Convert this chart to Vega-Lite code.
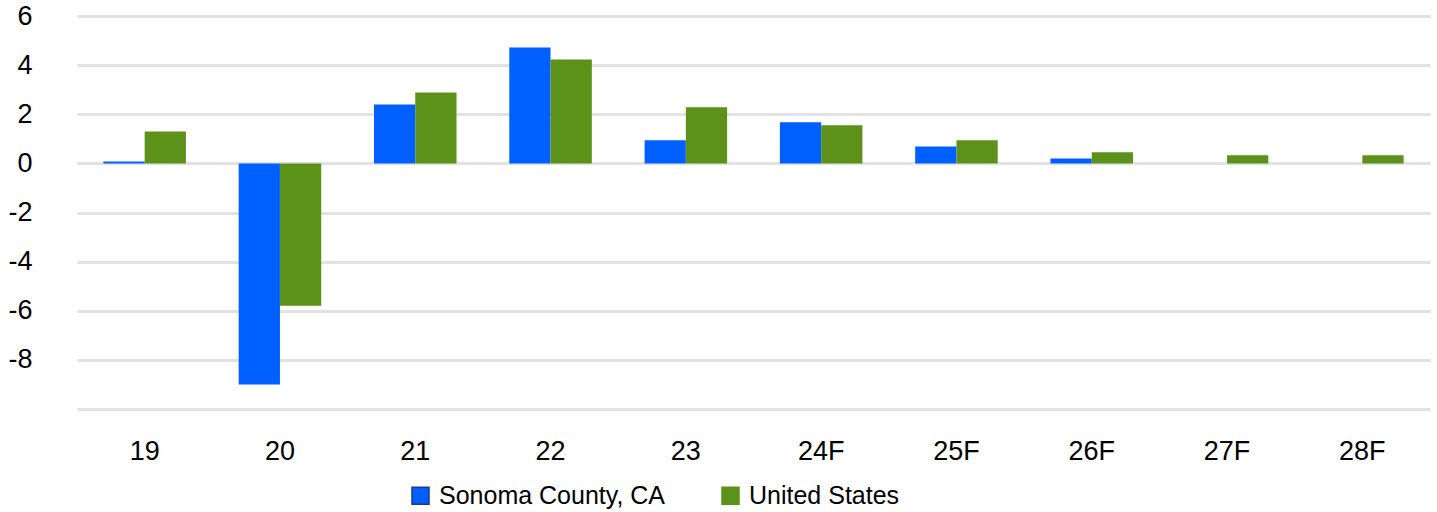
{
  "$schema": "https://vega.github.io/schema/vega-lite/v6.json",
  "autosize": {"type": "none"},
  "padding": {"left": 77, "top": 16, "right": 7, "bottom": 103},
  "width": 1353,
  "height": 393,
  "background": "white",
  "config": {
    "view": {"stroke": null},
    "font": "Liberation Sans"
  },
  "data": {
    "values": [
      {"year": "19", "series": "Sonoma County, CA", "value": 0.08},
      {"year": "19", "series": "United States", "value": 1.3},
      {"year": "20", "series": "Sonoma County, CA", "value": -9.0},
      {"year": "20", "series": "United States", "value": -5.8},
      {"year": "21", "series": "Sonoma County, CA", "value": 2.4},
      {"year": "21", "series": "United States", "value": 2.89},
      {"year": "22", "series": "Sonoma County, CA", "value": 4.72},
      {"year": "22", "series": "United States", "value": 4.23},
      {"year": "23", "series": "Sonoma County, CA", "value": 0.94},
      {"year": "23", "series": "United States", "value": 2.28},
      {"year": "24F", "series": "Sonoma County, CA", "value": 1.67},
      {"year": "24F", "series": "United States", "value": 1.55},
      {"year": "25F", "series": "Sonoma County, CA", "value": 0.69},
      {"year": "25F", "series": "United States", "value": 0.94},
      {"year": "26F", "series": "Sonoma County, CA", "value": 0.2},
      {"year": "26F", "series": "United States", "value": 0.45},
      {"year": "27F", "series": "United States", "value": 0.33},
      {"year": "28F", "series": "United States", "value": 0.33}
    ]
  },
  "mark": {"type": "bar"},
  "encoding": {
    "x": {
      "field": "year",
      "type": "nominal",
      "sort": ["19", "20", "21", "22", "23", "24F", "25F", "26F", "27F", "28F"],
      "scale": {"paddingInner": 0.39, "paddingOuter": 0.195},
      "axis": {
        "title": null,
        "labelAngle": 0,
        "ticks": false,
        "domain": false,
        "labelFontSize": 27,
        "labelColor": "#000000",
        "labelPadding": 29,
        "labelFont": "Liberation Sans"
      }
    },
    "xOffset": {
      "field": "series",
      "type": "nominal",
      "sort": ["Sonoma County, CA", "United States"]
    },
    "y": {
      "field": "value",
      "type": "quantitative",
      "scale": {"domain": [-10, 6], "nice": false, "zero": true},
      "axis": {
        "title": null,
        "values": [-10, -8, -6, -4, -2, 0, 2, 4, 6],
        "labelExpr": "datum.value == -10 ? '' : toString(datum.value)",
        "ticks": false,
        "domain": false,
        "grid": true,
        "gridColor": "#e2e2e2",
        "gridWidth": 3,
        "labelFontSize": 27,
        "labelColor": "#000000",
        "labelPadding": 45,
        "labelFont": "Liberation Sans"
      }
    },
    "color": {
      "field": "series",
      "type": "nominal",
      "sort": ["Sonoma County, CA", "United States"],
      "scale": {
        "domain": ["Sonoma County, CA", "United States"],
        "range": ["#005fff", "#5d921a"]
      },
      "legend": {
        "title": null,
        "orient": "none",
        "direction": "horizontal",
        "legendX": 331,
        "legendY": 467,
        "symbolType": "square",
        "symbolSize": 289,
        "symbolOpacity": 1,
        "labelFontSize": 25,
        "labelColor": "#000000",
        "labelFont": "Liberation Sans",
        "labelLimit": 0,
        "labelOffset": 6,
        "columnPadding": 52,
        "encode": {
          "symbols": {
            "update": {
              "stroke": {"signal": "datum.label == 'Sonoma County, CA' ? '#1d3c8c' : datum.value == 'Sonoma County, CA' ? '#1d3c8c' : '#5d921a'"},
              "strokeWidth": {"value": 1.5}
            }
          }
        }
      }
    }
  }
}
